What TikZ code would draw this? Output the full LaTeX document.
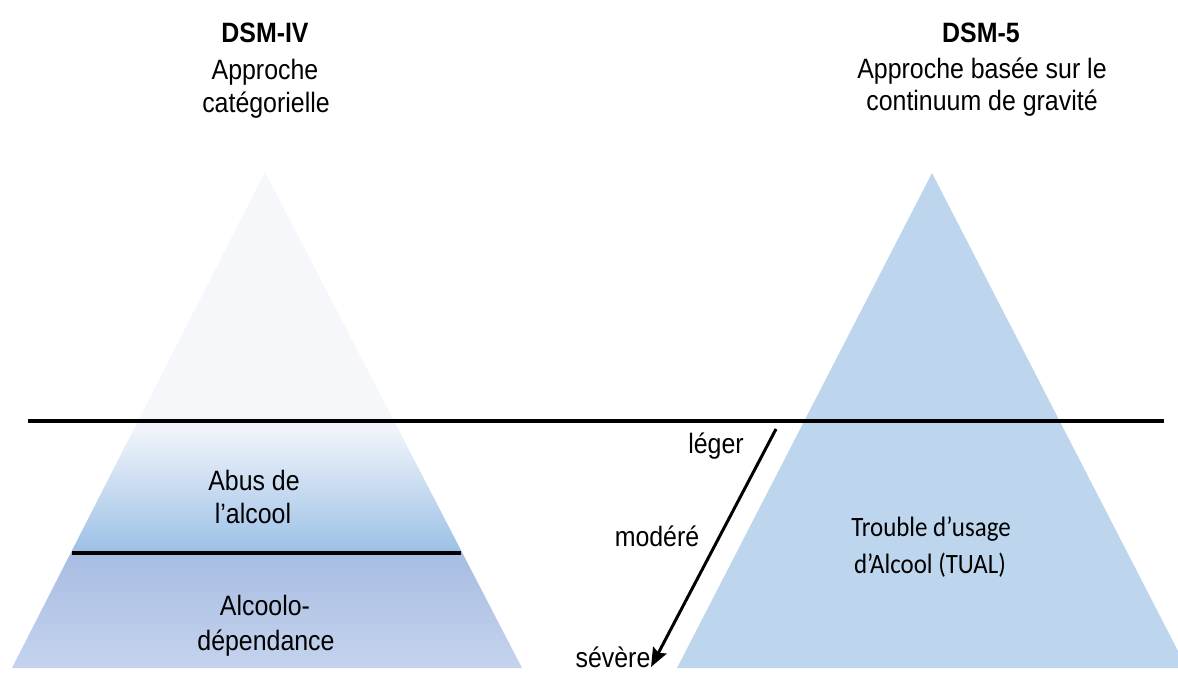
\documentclass[tikz,border=0pt]{standalone}
\usepackage{fontspec}
\setmainfont[FakeStretch=0.89]{Liberation Sans}
\newfontfamily\calibrix[FakeStretch=0.89]{Carlito}
\usetikzlibrary{arrows.meta}
\definecolor{topfill}{RGB}{245,247,251}
\definecolor{midtop}{RGB}{240,244,250}
\definecolor{midbot}{RGB}{155,192,230}
\definecolor{lowtop}{RGB}{168,189,227}
\definecolor{lowbot}{RGB}{197,211,237}
\definecolor{rightfill}{RGB}{189,214,238}
\tikzset{
  txt/.style={anchor=base, inner sep=0pt, font=\fontsize{28}{34}\selectfont},
  ctxt/.style={txt, font=\calibrix\fontsize{28}{34}\selectfont},
  thick line/.style={line width=4.5pt},
}
\begin{document}
\begin{tikzpicture}[x=1pt,y=-1pt]
\useasboundingbox (0,0) rectangle (1178,673);
% left pyramid
\coordinate (LA) at (265,172);
\coordinate (LB) at (12,668);
\coordinate (LC) at (522,668);
\begin{scope}
  \clip (LB) -- (LA) -- (LC) -- cycle;
  \fill[topfill] (0,160) rectangle (560,421);
  \shade[top color=midtop, bottom color=midbot] (0,430) rectangle (560,553);
  \fill[midtop] (0,419) rectangle (560,432);
  \shade[top color=lowtop, bottom color=lowbot] (0,553) rectangle (560,670);
\end{scope}
% right pyramid
\coordinate (RA) at (932,173);
\coordinate (RB) at (677,668);
\fill[rightfill] (RB) -- (RA) -- (1178,651) -- (1178,668) -- cycle;
% lines
\coordinate (HL) at (28,421);
\coordinate (HR) at (1164,421);
\draw[thick line] (HL) -- (HR);
\coordinate (IL) at (72,553);
\coordinate (IR) at (461,553);
\draw[line width=4.5pt] (IL) -- (IR);
% arrow
\coordinate (AS) at (776,429);
\coordinate (AE) at (651,667);
\draw[line width=3pt, -{Stealth[length=19pt,width=15pt,inset=3pt]}] (AS) -- (AE);
% headers
\node[txt, font=\bfseries\fontsize{28}{34}\selectfont] (h1) at (265,42) {DSM-IV};
\node[txt] (h2) at (265,79) {Approche};
\node[txt] (h3) at (266,112) {catégorielle};
\node[txt, font=\bfseries\fontsize{28}{34}\selectfont] (h4) at (981,42) {DSM-5};
\node[txt] (h5) at (982,78) {Approche basée sur le};
\node[txt] (h6) at (982,110) {continuum de gravité};
% left labels
\node[txt] (l1) at (254,490) {Abus de};
\node[txt] (l2) at (253,523) {l’alcool};
\node[txt] (l3) at (265,615) {Alcoolo-};
\node[txt] (l4) at (266,650) {dépendance};
% right labels
\node[ctxt] (r1) at (931,536) {Trouble d’usage};
\node[ctxt] (r2) at (930,573) {d’Alcool (TUAL)};
% severity labels
\node[txt] (s1) at (716,453) {léger};
\node[txt] (s2) at (657,546) {modéré};
\node[txt] (s3) at (613,667) {sévère};
\end{tikzpicture}
\end{document}
